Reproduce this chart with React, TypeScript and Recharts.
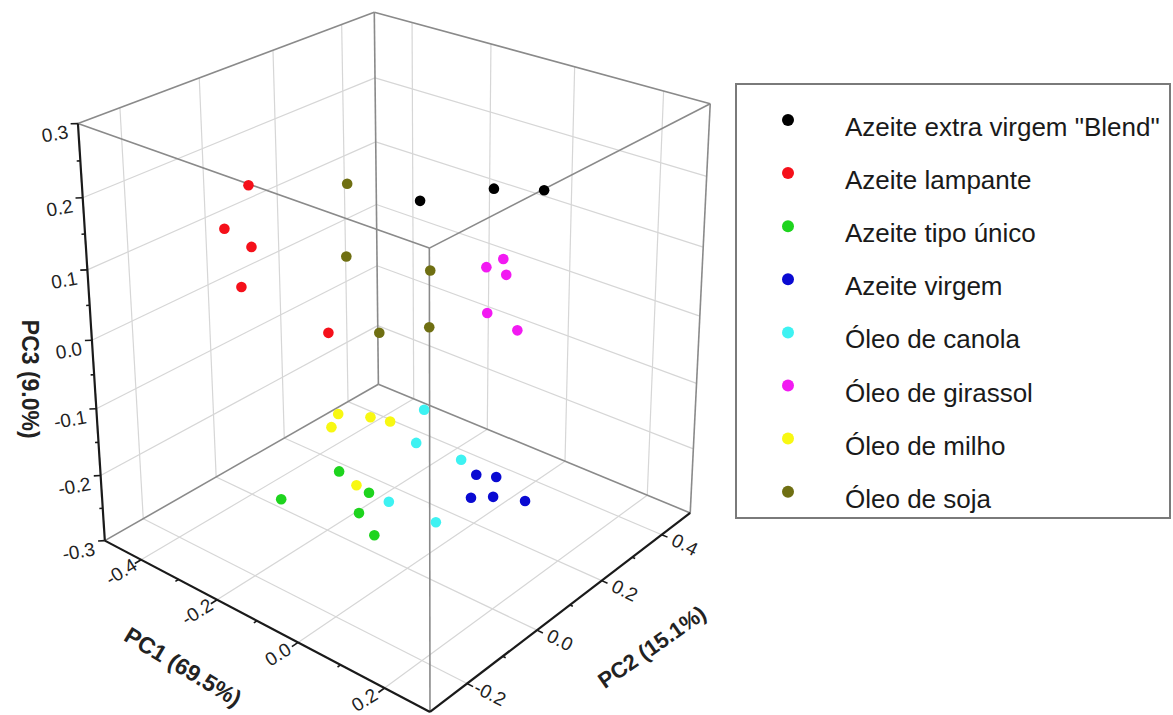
import React from 'react';
import { ScatterChart, Scatter, XAxis, YAxis, ReferenceLine } from 'recharts';

type P3 = [number, number, number];

// ---- data: scores on PC1, PC2, PC3 ----
const SERIES_NAMES = [
  'Azeite extra virgem "Blend"',
  'Azeite lampante',
  'Azeite tipo único',
  'Azeite virgem',
  'Óleo de canola',
  'Óleo de girassol',
  'Óleo de milho',
  'Óleo de soja',
];

const azeiteBlend: P3[] = [
  [-0.123, 0.189, 0.155],
  [-0.023, 0.283, 0.17],
  [0.049, 0.342, 0.168],
];
const azeiteLampante: P3[] = [
  [-0.373, -0.008, 0.174],
  [-0.389, -0.059, 0.121],
  [-0.343, -0.036, 0.099],
  [-0.341, -0.068, 0.05],
  [-0.199, 0.013, -0.006],
];
const azeiteTipoUnico: P3[] = [
  [-0.127, -0.044, -0.175],
  [-0.198, -0.127, -0.209],
  [-0.076, -0.019, -0.201],
  [-0.082, -0.041, -0.226],
  [-0.051, -0.034, -0.253],
];
const azeiteVirgem: P3[] = [
  [0.069, 0.118, -0.179],
  [0.098, 0.141, -0.182],
  [0.071, 0.1, -0.207],
  [0.102, 0.127, -0.206],
  [0.149, 0.163, -0.211],
];
const oleoCanola: P3[] = [
  [-0.032, 0.089, -0.1],
  [-0.029, 0.062, -0.14],
  [0.041, 0.108, -0.161],
  [-0.044, 0.0, -0.212],
  [0.031, 0.046, -0.237],
];
const oleoGirassol: P3[] = [
  [-0.002, 0.235, 0.074],
  [0.019, 0.259, 0.084],
  [0.03, 0.254, 0.065],
  [0.018, 0.213, 0.018],
  [0.068, 0.24, -0.003],
];
const oleoMilho: P3[] = [
  [-0.152, -0.016, -0.105],
  [-0.156, -0.031, -0.121],
  [-0.105, 0.021, -0.109],
  [-0.075, 0.042, -0.114],
  [-0.097, -0.03, -0.192],
];
const oleoSoja: P3[] = [
  [-0.233, 0.11, 0.176],
  [-0.205, 0.073, 0.087],
  [-0.08, 0.166, 0.07],
  [-0.127, 0.074, -0.006],
  [-0.058, 0.136, 0.001],
];

const SERIES_DATA: P3[][] = [
  azeiteBlend,
  azeiteLampante,
  azeiteTipoUnico,
  azeiteVirgem,
  oleoCanola,
  oleoGirassol,
  oleoMilho,
  oleoSoja,
];

const SERIES_COLORS = [
  '#000000',
  '#f5101a',
  '#1ed41e',
  '#0a0ad2',
  '#3ef2f2',
  '#f21af2',
  '#f8f812',
  '#6f6f12',
];

// ---- axes ----
const PC1_DOMAIN: [number, number] = [-0.5, 0.3];
const PC2_DOMAIN: [number, number] = [-0.3, 0.5];
const PC3_DOMAIN: [number, number] = [-0.3, 0.3];

const PC1_TICKS = [-0.4, -0.2, 0.0, 0.2];
const PC1_MINOR = [-0.3, -0.1, 0.1];
const PC2_TICKS = [-0.2, 0.0, 0.2, 0.4];
const PC2_MINOR = [-0.1, 0.1, 0.3];
const PC3_TICKS = [0.3, 0.2, 0.1, 0.0, -0.1, -0.2, -0.3];
const PC3_MINOR = [0.25, 0.15, 0.05, -0.05, -0.15, -0.25];
const PC3_GRID = [-0.2, -0.1, 0.0, 0.1, 0.2];

const PC1_TITLE = 'PC1 (69.5%)';
const PC2_TITLE = 'PC2 (15.1%)';
const PC3_TITLE = 'PC3 (9.0%)';

// ---- layout ----
const W = 1173;
const H = 715;
const FONT = '"Liberation Sans", Arial, Helvetica, sans-serif';
const TICK_FONT_SIZE = 19;

// perspective camera looking down on the box from the PC1-max / PC2-min side
const FOCAL = 2090;
const CENTER_X = 437;
const CENTER_Y = 73;
const PITCH = (20.4 * Math.PI) / 180;
const YAW = (50.4 * Math.PI) / 180;
const FRONT_CORNER = { h: 0.8307, r: -0.00335, z: -0.6351 };
const BOX_EDGE = [0.2303, 0.2264, 0.2444];

const norm = (v: number, d: [number, number]) => (v - d[0]) / (d[1] - d[0]);

function project([a, b, c]: P3) {
  const d1 = (norm(a, PC1_DOMAIN) - 1) * BOX_EDGE[0];
  const d2 = norm(b, PC2_DOMAIN) * BOX_EDGE[1];
  const d3 = norm(c, PC3_DOMAIN) * BOX_EDGE[2];
  const cy = Math.cos(YAW);
  const sy = Math.sin(YAW);
  const h = FRONT_CORNER.h - cy * d1 + sy * d2;
  const r = FRONT_CORNER.r + sy * d1 + cy * d2;
  const z = FRONT_CORNER.z + d3;
  const depth = h * Math.cos(PITCH) - z * Math.sin(PITCH);
  const up = h * Math.sin(PITCH) + z * Math.cos(PITCH);
  return { x: CENTER_X + (FOCAL * r) / depth, y: CENTER_Y - (FOCAL * up) / depth };
}

const [X0, X1] = PC1_DOMAIN;
const [Y0, Y1] = PC2_DOMAIN;
const [Z0, Z1] = PC3_DOMAIN;

const GRID: [P3, P3][] = [
  // back-left wall (PC1 = min)
  ...PC2_TICKS.map((v) => [[X0, v, Z0], [X0, v, Z1]] as [P3, P3]),
  ...PC3_GRID.map((w) => [[X0, Y0, w], [X0, Y1, w]] as [P3, P3]),
  // back-right wall (PC2 = max)
  ...PC1_TICKS.map((v) => [[v, Y1, Z0], [v, Y1, Z1]] as [P3, P3]),
  ...PC3_GRID.map((w) => [[X0, Y1, w], [X1, Y1, w]] as [P3, P3]),
  // floor (PC3 = min)
  ...PC1_TICKS.map((v) => [[v, Y0, Z0], [v, Y1, Z0]] as [P3, P3]),
  ...PC2_TICKS.map((v) => [[X0, v, Z0], [X1, v, Z0]] as [P3, P3]),
];

const EDGES: [P3, P3][] = [
  [[X0, Y0, Z1], [X0, Y1, Z1]],
  [[X0, Y1, Z1], [X1, Y1, Z1]],
  [[X1, Y1, Z1], [X1, Y0, Z1]],
  [[X1, Y0, Z1], [X0, Y0, Z1]],
  [[X0, Y1, Z0], [X0, Y1, Z1]],
  [[X1, Y0, Z0], [X1, Y0, Z1]],
  [[X1, Y1, Z0], [X1, Y1, Z1]],
  [[X0, Y0, Z0], [X0, Y1, Z0]],
  [[X0, Y1, Z0], [X1, Y1, Z0]],
];

const AXES: [P3, P3][] = [
  [[X0, Y0, Z0], [X0, Y0, Z1]],
  [[X0, Y0, Z0], [X1, Y0, Z0]],
  [[X1, Y0, Z0], [X1, Y1, Z0]],
];

const TICK_MARKS: [P3, P3][] = [
  ...PC3_TICKS.map((v) => [[X0, Y0, v], [X0 - 0.009, Y0 - 0.009, v]] as [P3, P3]),
  ...PC3_MINOR.map((v) => [[X0, Y0, v], [X0 - 0.0045, Y0 - 0.0045, v]] as [P3, P3]),
  ...PC1_TICKS.map((v) => [[v, Y0, Z0], [v, Y0 - 0.016, Z0]] as [P3, P3]),
  ...PC1_MINOR.map((v) => [[v, Y0, Z0], [v, Y0 - 0.008, Z0]] as [P3, P3]),
  ...PC2_TICKS.map((v) => [[X1, v, Z0], [X1 + 0.013, v, Z0]] as [P3, P3]),
  ...PC2_MINOR.map((v) => [[X1, v, Z0], [X1 + 0.0065, v, Z0]] as [P3, P3]),
];

const segments = (list: [P3, P3][], key: string, stroke: string, width: number) =>
  list.map(([a, b], i) => (
    <ReferenceLine
      key={`${key}-${i}`}
      segment={[project(a), project(b)]}
      stroke={stroke}
      strokeWidth={width}
      ifOverflow="visible"
    />
  ));

const fmt = (v: number) => v.toFixed(1);

const pc3Labels = PC3_TICKS.map((v) => ({ ...project([X0, Y0, v]), text: fmt(v) }));
const pc1Labels = PC1_TICKS.map((v) => ({ ...project([v, Y0, Z0]), text: fmt(v) }));
const pc2Labels = PC2_TICKS.map((v) => ({ ...project([X1, v, Z0]), text: fmt(v) }));
const pc3TitleAt = [{ ...project([X0, Y0, 0]), text: PC3_TITLE }];
const pc1TitleAt = [{ ...project([(X0 + X1) / 2, Y0, Z0]), text: PC1_TITLE }];
const pc2TitleAt = [{ ...project([X1, (Y0 + Y1) / 2, Z0]), text: PC2_TITLE }];

const textShape =
  (dx: number, dy: number, angle: number, size: number, weight: number, anchor: 'start' | 'middle' | 'end') =>
  (props: any) => {
    const x = props.cx + dx;
    const y = props.cy + dy;
    return (
      <text
        x={x}
        y={y}
        textAnchor={anchor}
        dominantBaseline="central"
        transform={`rotate(${angle} ${x} ${y})`}
        fontFamily={FONT}
        fontSize={size}
        fontWeight={weight}
        fill="#222"
      >
        {props.payload.text}
      </text>
    );
  };

const dotShape = (color: string) => (props: any) =>
  <circle cx={props.cx} cy={props.cy} r={5.3} fill={color} />;

function LegendBox() {
  const left = 735;
  const top = 83;
  const w = 436;
  const h = 436;
  return (
    <svg
      width={w}
      height={h}
      style={{ position: 'absolute', left, top }}
    >
      <rect x={1} y={1} width={w - 2} height={h - 2} fill="#fff" stroke="#7a7a7a" strokeWidth={2} />
      {SERIES_NAMES.map((name, i) => {
        const cy = 37 + i * 53.1;
        return (
          <g key={name}>
            <circle cx={53} cy={cy} r={6} fill={SERIES_COLORS[i]} />
            <text x={110} y={cy + 16} fontFamily={FONT} fontSize={26} fill="#1a1a1a">
              {name}
            </text>
          </g>
        );
      })}
    </svg>
  );
}

export default function App() {
  return (
    <div
      style={{
        position: 'fixed',
        left: 0,
        top: 0,
        width: W,
        height: H,
        background: '#fff',
        fontFamily: FONT,
      }}
    >
      <ScatterChart width={W} height={H} margin={{ top: 0, right: 0, bottom: 0, left: 0 }}>
        <XAxis type="number" dataKey="x" domain={[0, W]} hide allowDataOverflow />
        <YAxis type="number" dataKey="y" domain={[0, H]} hide reversed allowDataOverflow />
        {segments(GRID, 'grid', '#d6d6d6', 1.2)}
        {segments(EDGES, 'edge', '#8a8a8a', 1.6)}
        {segments(AXES, 'axis', '#1a1a1a', 2.2)}
        {segments(TICK_MARKS, 'tick', '#1a1a1a', 1.6)}
        {SERIES_DATA.map((series, i) => (
          <Scatter
            key={SERIES_NAMES[i]}
            name={SERIES_NAMES[i]}
            data={series.map((p) => ({ ...project(p), pc1: p[0], pc2: p[1], pc3: p[2] }))}
            fill={SERIES_COLORS[i]}
            shape={dotShape(SERIES_COLORS[i])}
            isAnimationActive={false}
          />
        ))}
        <Scatter data={pc3Labels} shape={textShape(-10, 8, -10, TICK_FONT_SIZE, 400, 'end')} isAnimationActive={false} />
        <Scatter data={pc1Labels} shape={textShape(-20, 12, -32, TICK_FONT_SIZE, 400, 'middle')} isAnimationActive={false} />
        <Scatter data={pc2Labels} shape={textShape(23, 10, 27, TICK_FONT_SIZE, 400, 'middle')} isAnimationActive={false} />
        <Scatter data={pc3TitleAt} shape={textShape(-62, 39, 90, 23, 700, 'middle')} isAnimationActive={false} />
        <Scatter data={pc1TitleAt} shape={textShape(-74, 46, 31, 23, 700, 'middle')} isAnimationActive={false} />
        <Scatter data={pc2TitleAt} shape={textShape(82, 42, -35, 22, 700, 'middle')} isAnimationActive={false} />
      </ScatterChart>
      <LegendBox />
    </div>
  );
}
